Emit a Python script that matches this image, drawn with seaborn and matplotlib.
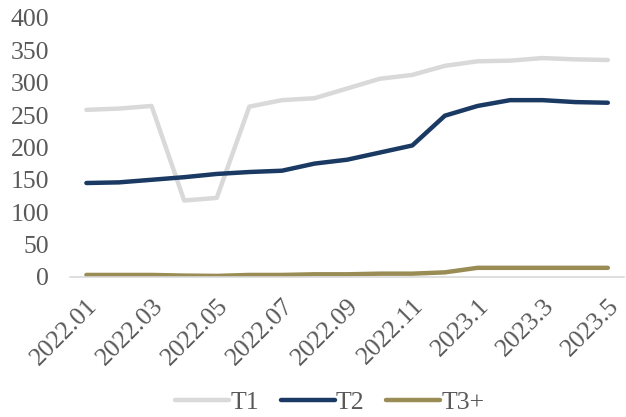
import pandas as pd
import numpy as np
import matplotlib.pyplot as plt
import seaborn as sns

# data
months = ["2022.01", "2022.02", "2022.03", "2022.04", "2022.05", "2022.06",
          "2022.07", "2022.08", "2022.09", "2022.10", "2022.11", "2022.12",
          "2023.1", "2023.2", "2023.3", "2023.4", "2023.5"]
t1 = [258, 260, 264, 118, 122, 263, 273, 276, 291, 306, 312, 326, 333, 334, 338, 336, 335]
t2 = [145, 146, 150, 154, 159, 162, 164, 175, 181, 192, 203, 249, 264, 273, 273, 270, 269]
t3 = [3, 3, 3, 2, 1.5, 3, 3, 4, 4, 5, 5, 7, 14, 14, 14, 14, 14]
series_names = ["T1", "T2", "T3+"]
palette = ["#D9D9D9", "#1B3A63", "#998D55"]

sns.set_style("white")
plt.rcParams['font.family'] = ['Liberation Serif', 'DejaVu Serif']

df = pd.DataFrame({"month": months, "T1": t1, "T2": t2, "T3+": t3})
df["pos"] = np.arange(len(months))
long_df = df.melt(id_vars=["month", "pos"], value_vars=series_names,
                  var_name="series", value_name="value")

fig = plt.figure(figsize=(6.26, 4.17), dpi=100)
ax = fig.add_axes([0.112, 0.336, 0.885, 0.621])

sns.lineplot(data=long_df, x="pos", y="value", hue="series",
             hue_order=series_names, palette=palette, linewidth=3.2,
             ax=ax, legend=True)

ax.set_xlim(-0.5, len(months) - 0.5)
ax.set_ylim(0, 400)
ax.set_yticks(range(0, 401, 50))
ax.set_xticks(df["pos"][::2])
ax.set_xticklabels(months[::2], rotation=45, ha="right", rotation_mode="anchor")
ax.tick_params(axis="both", labelsize=18.5, labelcolor="#595959", length=0)
ax.tick_params(axis="y", pad=15)
ax.tick_params(axis="x", pad=13)
ax.set_xlabel("")
ax.set_ylabel("")

for side in ["top", "right", "left"]:
    ax.spines[side].set_visible(False)
ax.spines["bottom"].set_color("#D9D9D9")
ax.spines["bottom"].set_linewidth(1.2)

handles, labels = ax.get_legend_handles_labels()
ax.legend_.remove()
fig.legend(handles, labels, loc="center", bbox_to_anchor=(0.527, 0.034),
           ncol=3, frameon=False, fontsize=18.5, labelcolor="#595959",
           handlelength=2.1, handletextpad=0.05, columnspacing=0.85)

plt.savefig("out.png", dpi=100)
